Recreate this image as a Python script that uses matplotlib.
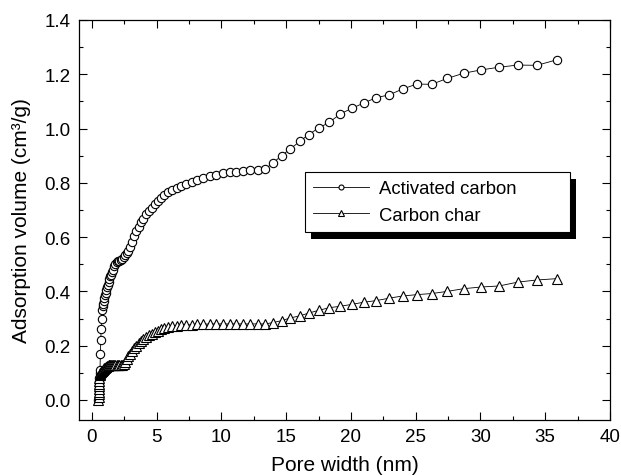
import matplotlib
matplotlib.use("Agg")
import matplotlib.pyplot as plt
from matplotlib.patches import Rectangle

plt.rcParams['font.family'] = ['Liberation Sans', 'DejaVu Sans']

# pore width grid (nm), shared by both samples
pore_width = [
    0.50, 0.51, 0.52, 0.53, 0.54, 0.55, 0.56, 0.57, 0.58, 0.60,
    0.62, 0.65, 0.68, 0.71, 0.75, 0.79, 0.83, 0.87, 0.92, 0.96,
    1.01, 1.06, 1.11, 1.17, 1.23, 1.29, 1.35, 1.42, 1.49, 1.57,
    1.65, 1.73, 1.81, 1.90, 2.00, 2.10, 2.21, 2.32, 2.44, 2.56,
    2.69, 2.82, 2.96, 3.11, 3.27, 3.43, 3.60, 3.78, 3.97, 4.17,
    4.38, 4.60, 4.83, 5.07, 5.32, 5.59, 5.90, 6.21, 6.55, 6.88,
    7.29, 7.71, 8.14, 8.61, 9.10, 9.61, 10.13, 10.65, 11.16, 11.68,
    12.24, 12.81, 13.38, 13.97, 14.64, 15.31, 16.06, 16.74, 17.50, 18.33,
    19.18, 20.05, 20.98, 21.96, 22.94, 24.00, 25.09, 26.24, 27.44, 28.72,
    30.03, 31.45, 32.87, 34.36, 35.94,
]

activated = [
    0.00, 0.01, 0.02, 0.03, 0.04, 0.05, 0.06, 0.07, 0.08, 0.10,
    0.11, 0.17, 0.22, 0.26, 0.30, 0.33, 0.345, 0.355, 0.365, 0.375,
    0.385, 0.395, 0.405, 0.415, 0.425, 0.435, 0.445, 0.455, 0.462, 0.470,
    0.480, 0.492, 0.502, 0.508, 0.512, 0.512, 0.514, 0.520, 0.528, 0.535,
    0.540, 0.550, 0.565, 0.583, 0.605, 0.622, 0.638, 0.655, 0.668, 0.684,
    0.697, 0.709, 0.721, 0.732, 0.743, 0.755, 0.765, 0.773, 0.780, 0.787,
    0.796, 0.804, 0.812, 0.819, 0.825, 0.830, 0.835, 0.839, 0.841, 0.844,
    0.846, 0.849, 0.851, 0.873, 0.900, 0.925, 0.953, 0.978, 1.002, 1.023,
    1.054, 1.074, 1.094, 1.114, 1.124, 1.146, 1.164, 1.163, 1.185, 1.204,
    1.216, 1.226, 1.234, 1.233, 1.254,
]

char = [
    0.00, 0.01, 0.02, 0.03, 0.04, 0.05, 0.06, 0.07, 0.08, 0.09,
    0.095, 0.100, 0.102, 0.104, 0.106, 0.108, 0.110, 0.112, 0.114, 0.116,
    0.118, 0.120, 0.122, 0.124, 0.126, 0.127, 0.128, 0.129, 0.130, 0.130,
    0.130, 0.130, 0.130, 0.130, 0.130, 0.130, 0.130, 0.130, 0.133, 0.140,
    0.150, 0.160, 0.170, 0.180, 0.190, 0.200, 0.210, 0.218, 0.225, 0.232,
    0.238, 0.244, 0.250, 0.255, 0.260, 0.264, 0.268, 0.271, 0.273, 0.275,
    0.276, 0.277, 0.278, 0.279, 0.280, 0.280, 0.280, 0.280, 0.280, 0.280,
    0.280, 0.280, 0.280, 0.285, 0.292, 0.302, 0.310, 0.320, 0.330, 0.340,
    0.345, 0.352, 0.360, 0.366, 0.375, 0.383, 0.388, 0.392, 0.400, 0.410,
    0.416, 0.420, 0.434, 0.442, 0.447,
]

fig = plt.figure(figsize=(6.21, 4.77), dpi=100)
ax = fig.add_axes([79/621, 1 - 421/477, (610 - 79)/621, (421 - 21)/477])

ax.plot(pore_width, activated, '-', color='black', lw=0.6, marker='o',
        ms=6, mfc='white', mec='black', mew=0.8, label='Activated carbon')
ax.plot(pore_width, char, '-', color='black', lw=0.6, marker='^',
        ms=7, mfc='white', mec='black', mew=0.8, label='Carbon char')

ax.set_xlim(-1, 40)
ax.set_ylim(-0.074, 1.4)
ax.set_xticks(range(0, 41, 5))
ax.set_xticks([x + 2.5 for x in range(0, 40, 5)], minor=True)
ax.set_yticks([i * 0.2 for i in range(8)])
ax.set_yticks([0.1 + i * 0.2 for i in range(7)], minor=True)
ax.yaxis.set_major_formatter(plt.FormatStrFormatter('%.1f'))
ax.tick_params(which='both', direction='in', top=True, right=True,
               labelsize=13.5, width=0.8)
ax.tick_params(which='major', length=6, pad=6)
ax.tick_params(which='minor', length=3)
for s in ax.spines.values():
    s.set_linewidth(0.9)

ax.set_xlabel('Pore width (nm)', fontsize=15, labelpad=7)
ax.set_ylabel('Adsorption volume (cm³/g)', fontsize=15, labelpad=10)

leg = ax.legend(loc='upper left', bbox_to_anchor=(0.4256, 0.47, 0.499, 0.15),
                mode='expand', borderaxespad=0,
                fancybox=False, edgecolor='black', framealpha=1,
                fontsize=13.3, handlelength=3.0, markerscale=0.6,
                borderpad=0.45, labelspacing=0.5, handletextpad=0.55)
leg.get_frame().set_linewidth(0.8)
leg.set_zorder(6)

# solid offset shadow behind the legend box
fig.canvas.draw()
bb = leg.get_window_extent()
inv = ax.transAxes.inverted()
(x0, y0), (x1, y1) = inv.transform([(bb.x0 + 6, bb.y0 - 7), (bb.x1 + 6, bb.y1 - 7)])
ax.add_patch(Rectangle((x0, y0), x1 - x0, y1 - y0, transform=ax.transAxes,
                       facecolor='black', edgecolor='none', zorder=5.5,
                       clip_on=False))

fig.savefig('out.png', dpi=100)
